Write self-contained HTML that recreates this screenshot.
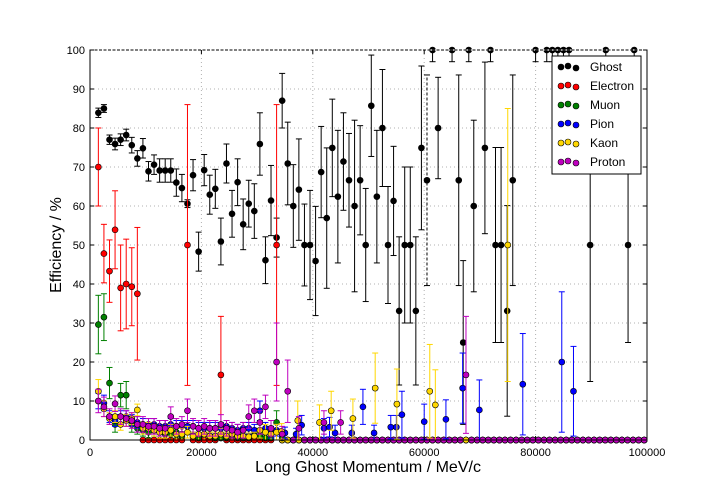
<!DOCTYPE html>
<html><head><meta charset="utf-8"><style>
body{margin:0;background:#fff;}
svg{display:block;font-family:"Liberation Sans",sans-serif;}
</style></head><body>
<svg id="chart" width="720" height="504" viewBox="0 0 720 504" xmlns="http://www.w3.org/2000/svg">
<rect x="0" y="0" width="720" height="504" fill="#fff"/>
<g id="grid"></g>
<g id="series"></g>
<g id="axes"></g>
<text x="368" y="472" font-size="16" text-anchor="middle">Long Ghost Momentum / MeV/c</text>
<text transform="translate(61,245) rotate(-90)" font-size="16" text-anchor="middle">Efficiency / %</text>
<g id="legend"></g>
</svg>
<script>
const xTicks=[0,20000,40000,60000,80000,100000];
const yTicks=[0,10,20,30,40,50,60,70,80,90,100];
const seriesNames=["Ghost","Electron","Muon","Pion","Kaon","Proton"];
const seriesColors=["#000000","#ff0000","#008000","#0000ff","#ffd700","#bf00bf"];

const ghostX=[1500,2500,3500,4500,5500,6500,7500,8500,9500,10500,11500,12500,13500,14500,15500,16500,17500,18500,19500,20500,21500,22500,23500,24500,25500,26500,27500,28500,29500,30500,31500,32500,33500,34500,35500,36500,37500,38500,39500,40500,41500,42500,43500,44500,45500,46500,47500,48500,49500,50500,51500,52500,53500,54500,55500,56500,57500,58500,59500,60500,61500,62500,65000,66200,67000,68000,68900,70900,71900,72800,73800,74900,75900,80000,82000,83000,84000,85000,86000,89800,92600,96600,97700];
const ghostY=[83.9,85,77,75.9,77,78.2,75.6,72.2,74.8,68.9,70.6,69.1,69.1,69.1,66,64.6,60.6,67.9,48.3,69.2,62.9,64.4,50.9,70.9,58,66.1,55.3,60.6,58.7,75.9,46.1,61.4,51.9,87,70.9,60,64.2,50,50,45.9,68.7,56.9,74.9,62.4,71.4,66.6,60,66.6,50,85.7,62.4,80,50,61.3,33.1,50,50,33.1,74.9,66.6,100,80,100,66.6,25,100,60,74.9,100,50,50,33.1,66.6,100,100,100,100,100,100,50,100,50,100];
const ghostErr=[1.2,1,1.2,1.5,1.5,1.5,2,2,2.5,2.5,2.5,3,3,3,3.5,3.5,1,4,5,4,5,5,6,5,6,6,6.5,6,7,8,6,9,5,7,10.6,10.6,13,10.5,14,14,11.7,18,12.5,17,12.5,12,22,14,14.5,13,17,15,15,14,19,20,20,19,21,27,3,13,3,27,21,3,22,22,3,25,25,27,27,3,3,3,3,3,3,35,3,25,3];

const electronX=[1500,2500,3500,4500,5500,6500,7500,8500,17500,23500,33500];
const electronY=[70,47.8,43.3,53.9,39,40,39.3,37.5,50,16.7,50];
const electronErr=[10,7.5,8,10,11,11.5,10,17,36,15,36];

const muonX=[1500,2500,3500,4500,5500,6500,7500,8500,9500,10500,11500,12500,13500,14500,15500,16500,17500,18500,19500,20500,21500,22500,23500,24500,25500,26500,27500,28500,29500,30500,31500,32500,33500,34500];
const muonY=[29.6,31.5,14.6,4,11.5,11.5,4,3,2.5,2,2.5,2,1.5,1.5,2,1,2,1,0.5,1.5,1,0.5,0.5,0.5,1,0.5,0.5,0.5,1.5,1,0.5,0.5,4.5,0.5];
const muonErr=[7.5,6,4,2,3,3.5,2,1.5,1.5,1.5,1.5,1.5,1.5,1.5,1.5,1,1.5,1,1,1.5,1,1,1,1,1,1,1,1,1.5,1,1,1,3,1];

const pionX=[1500,2500,3500,4500,5500,6500,7500,8500,9500,10500,11500,12500,13500,14500,15500,16500,17500,18500,19500,20500,21500,22500,23500,24500,25500,26500,27500,28500,29500,30500,31500,32500,33500,35000,37000,38000,42000,43000,44000,47000,49000,51000,54000,55000,56000,60000,63900,66900,69900,77700,84700,86800];
const pionY=[10,9.5,6,5,6,6,5,4.5,4,4,4,3.5,3.5,4,3.5,3.5,3.5,3.5,3,3,3,3,3,3.5,3,2.5,3,3,2.5,7.5,3,2,2.5,1.8,1.5,3.8,3,3.3,1.8,1.8,8.5,1.8,3.3,3.3,6.5,4.7,5.3,13.3,7.7,14.3,20,12.5];
const pionErr=[2,2,1.5,1.5,1.5,1.5,1.5,1.5,1.5,1.5,1.5,1.5,1.5,1.5,1.5,1.5,1.5,1.5,1.5,1.5,1.5,1.5,1.5,1.5,1.5,1.5,1.5,1.5,1.5,2.5,1.5,1.5,1.5,1.5,1.5,2.5,2.5,2.5,2,2,4.5,2,3,3,6,4.5,5,9,7.7,13,18,11.5];

const kaonX=[1500,2500,3500,4500,5500,6500,7500,8500,9500,10500,11500,12500,13500,14500,15500,16500,17500,18500,19500,20500,21500,22500,23500,24500,25500,26500,27500,28500,29500,30500,31500,32500,33500,34400,37300,41200,43300,47200,51200,55100,61000,62000,75000];
const kaonY=[12.5,8,5.5,6,4,5,5.5,7.7,3,3,2.5,2,2,2.5,1.5,1.5,2,1,1.5,1.5,1,1,1.5,1,1.5,1,1,0.8,1,2.5,2,1.5,2,2.2,5,4.5,7.5,5.5,13.3,9.2,12.5,9,50];
const kaonErr=[3,2,1.5,1.5,1.5,1.5,1.5,1.5,1.5,1.5,1.5,1.5,1.5,1.5,1.5,1.5,1.5,1,1.5,1.5,1,1,1.5,1,1.5,1,1,1,1,2,2,1.5,2,2,5,4.5,5,5,9,9,12,9,35];

const protonX=[1500,2500,3500,4500,5500,6500,7500,8500,9500,10500,11500,12500,13500,14500,15500,16500,17500,18500,19500,20500,21500,22500,23500,24500,25500,26500,27500,28500,29500,30500,31500,32500,33500,34500,35500,37500,42000,45000,67500];
const protonY=[10,8.5,6,9.3,6,5.5,5,4,4,3.5,3.5,3,3,6,3.5,4,7.5,3.5,3,3.5,3,3,4,3,2.5,2,2.5,6,7.5,4.5,8.5,3,20,1.5,12.5,3,4.5,4.5,16.7];
const protonErr=[3,2.5,2,2,2,2,2,2,2,2,2,2,2,2.5,2,2,3,2,2,2,2,2,2.5,2,2,2,2,3,3,3,3,2,10,2,8,3,3,3,15];

const zeroX=[];
for(let v=9500;v<100000;v+=1000) zeroX.push(v);

const L=90,R=647,T=50,B=440;
const xs=v=>L+(v/100000)*(R-L);
const ys=v=>B-(v/100)*(B-T);
const NS="http://www.w3.org/2000/svg";
function mk(tag,parent,attrs){const e=document.createElementNS(NS,tag);for(const k in attrs)e.setAttribute(k,attrs[k]);parent.appendChild(e);return e;}

const grid=document.getElementById('grid');
xTicks.forEach(t=>{if(t>0&&t<100000){const l=mk('line',grid,{x1:xs(t),x2:xs(t),y1:T,y2:B,stroke:'#b0b0b0','stroke-dasharray':'1,3'});

}});
yTicks.forEach(t=>{if(t>0&&t<100){const l=mk('line',grid,{x1:L,x2:R,y1:ys(t),y2:ys(t),stroke:'#b0b0b0','stroke-dasharray':'1,3'});

}});

const sg=document.getElementById('series');
function drawPoint(g,x,y,err,color,dashed){
  const cx=xs(x),cy=ys(y);
  if(err>0){
    const lo=ys(Math.max(0,y-err)),hi=ys(Math.min(100,y+err));
    const a={x1:cx,x2:cx,y1:lo,y2:hi,stroke:color,'stroke-width':1};
    if(dashed)a['stroke-dasharray']='3,2';
    mk('line',g,a);
    mk('line',g,{x1:cx-3,x2:cx+3,y1:lo,y2:lo,stroke:color,'stroke-width':1});
    mk('line',g,{x1:cx-3,x2:cx+3,y1:hi,y2:hi,stroke:color,'stroke-width':1});
  }
  mk('line',g,{x1:cx-2.8,x2:cx+2.8,y1:cy,y2:cy,stroke:color,'stroke-width':1});
  const c=mk('circle',g,{cx:cx,cy:cy,r:3,fill:color,stroke:'#000','stroke-width':0.6});
  
  
}
const allX=[ghostX,electronX,muonX,pionX,kaonX,protonX];
const allY=[ghostY,electronY,muonY,pionY,kaonY,protonY];
const allE=[ghostErr,electronErr,muonErr,pionErr,kaonErr,protonErr];
// zero points first
for(let s=1;s<6;s++){
  const g=mk('g',sg,{});
  
  
  zeroX.forEach(x=>{if(allX[s].indexOf(x)<0)drawPoint(g,x,0,0,seriesColors[s],false);});
}
for(let s=0;s<6;s++){
  const g=mk('g',sg,{});
  
  
  allX[s].forEach((x,i)=>drawPoint(g,x,allY[s][i],allE[s][i],seriesColors[s],s===0&&x===60500));
}

const ax=document.getElementById('axes');
mk('rect',ax,{x:L,y:T,width:R-L,height:B-T,fill:'none',stroke:'#000','stroke-width':1});
mk('line',ax,{x1:L,x2:R,y1:T,y2:T,stroke:'#fff','stroke-width':1.2});
mk('line',ax,{x1:L,x2:R,y1:T,y2:T,stroke:'#000','stroke-width':1,'stroke-dasharray':'3,1.5'});
xTicks.forEach(t=>{
  mk('line',ax,{x1:xs(t),x2:xs(t),y1:B,y2:B-4,stroke:'#000'});
  mk('line',ax,{x1:xs(t),x2:xs(t),y1:T,y2:T+4,stroke:'#000'});
  const tx=mk('text',ax,{x:xs(t),y:B+16,'font-size':11,'text-anchor':'middle'});
  tx.textContent=t;
  
  
});
yTicks.forEach(t=>{
  mk('line',ax,{x1:L,x2:L+4,y1:ys(t),y2:ys(t),stroke:'#000'});
  mk('line',ax,{x1:R,x2:R-4,y1:ys(t),y2:ys(t),stroke:'#000'});
  const tx=mk('text',ax,{x:L-5,y:ys(t)+4,'font-size':11,'text-anchor':'end'});
  tx.textContent=t;
  
  
});

const lg=document.getElementById('legend');
mk('rect',lg,{x:552,y:56,width:89,height:118,fill:'#fff',stroke:'#000','stroke-width':1});
seriesNames.forEach((n,i)=>{
  const y=67+i*19;
  const g=mk('g',lg,{});
  
  
  [[561,y],[568,y-1],[576,y+1]].forEach(p=>mk('circle',g,{cx:p[0],cy:p[1],r:3,fill:seriesColors[i],stroke:'#000','stroke-width':0.6}));
  const t=mk('text',g,{x:590,y:y+4,'font-size':12});
  t.textContent=n;
});
</script>
</body></html>
